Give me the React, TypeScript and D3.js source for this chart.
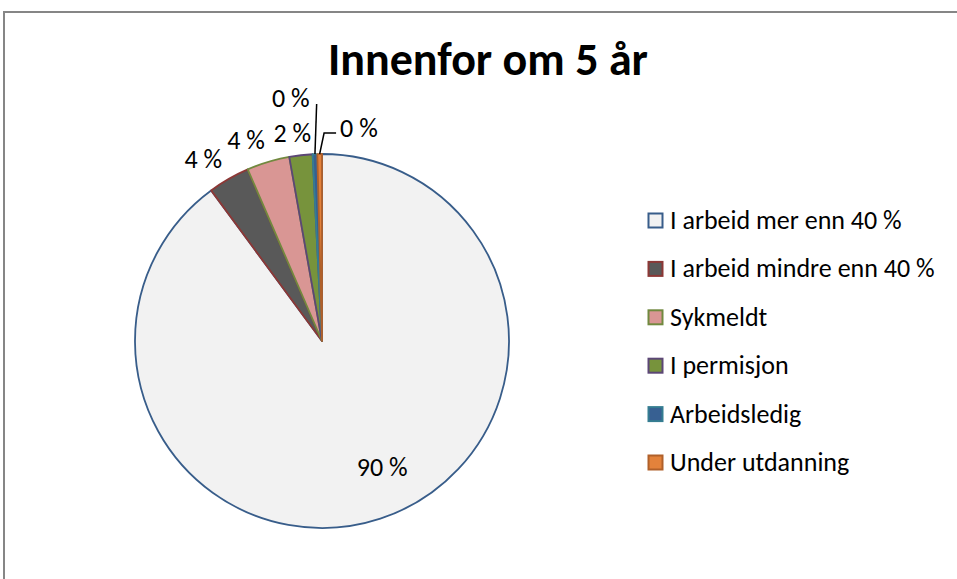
import * as d3 from 'd3'
import React from 'react'

const WIDTH = 957
const HEIGHT = 579
const FONT = 'Carlito, Calibri, Lato, sans-serif'

const TITLE = 'Innenfor om 5 år'
const categories = [
  'I arbeid mer enn 40 %',
  'I arbeid mindre enn 40 %',
  'Sykmeldt',
  'I permisjon',
  'Arbeidsledig',
  'Under utdanning',
]
const values = [89.9, 3.6, 3.7, 2.0, 0.4, 0.4]
const fills = ['#F2F2F2', '#595959', '#D99694', '#77933C', '#376092', '#E3823B']
const strokes = ['#385D8A', '#8C3836', '#71893F', '#5C4776', '#357D91', '#B0602A']

const CX = 322
const CY = 341
const R = 187
const LABEL_HALF_W = 19
const FONT_SIZE = 26

const pct = (v: number) => `${Math.round(v)} %`

const polar = (a: number, r: number): [number, number] => [CX + r * Math.sin(a), CY - r * Math.cos(a)]

export default function App() {
  const pie = d3
    .pie<number>()
    .sort(null)
    .value(d => d)
  const arcs = pie(values)
  const arcGen = d3
    .arc<d3.PieArcDatum<number>>()
    .innerRadius(0)
    .outerRadius(R)

  const total = d3.sum(values)

  // data labels, roughly like Excel's best fit
  let smallCount = 0
  const labels = arcs.map((a, i) => {
    const mid = (a.startAngle + a.endAngle) / 2
    const share = (a.value / total) * 100
    const text = pct(share)
    if (i === 0) {
      const [x, y] = polar(mid - 0.12, R * 0.76)
      return (
        <text key={i} x={x} y={y} textAnchor="middle" dominantBaseline="middle">
          {text}
        </text>
      )
    }
    if (share < 1) {
      const k = smallCount++
      const [sx, sy] = polar(mid, R)
      if (k === 0) {
        // long leader straight up, label on the left
        const [ex, ey] = polar(mid * 0.6 + 2 * Math.PI * 0.4, R + 50)
        return (
          <g key={i}>
            <line x1={sx} y1={sy} x2={ex} y2={ey} stroke="#000" strokeWidth={1.5} />
            <text x={ex - 7} y={ey + 3} textAnchor="end">
              {text}
            </text>
          </g>
        )
      }
      // short elbow leader, label on the right
      const [ex, ey] = polar(2 * Math.PI + 0.01, R + 21)
      return (
        <g key={i}>
          <path
            d={`M${sx},${sy}L${ex},${ey}L${ex + 12},${ey}`}
            fill="none"
            stroke="#000"
            strokeWidth={1.5}
          />
          <text x={ex + 16} y={ey + 4}>
            {text}
          </text>
        </g>
      )
    }
    const [px, py] = polar(mid, R + 13)
    const s = Math.sin(mid)
    const x = px + Math.sign(s) * LABEL_HALF_W * Math.min(1, Math.abs(s) / 0.3)
    return (
      <text key={i} x={x} y={py} textAnchor="middle">
        {text}
      </text>
    )
  })

  const legendY = d3
    .scalePoint<string>()
    .domain(categories)
    .range([213, 455])

  return (
    <svg
      width={WIDTH}
      height={HEIGHT}
      style={{ position: 'absolute', left: 0, top: 0, background: '#fff' }}
      fontFamily={FONT}
    >
      <rect x={4} y={12} width={WIDTH + 10} height={HEIGHT + 10} fill="#fff" stroke="#868686" strokeWidth={2} />

      <text x={488} y={75} textAnchor="middle" fontSize={46} fontWeight="bold" fill="#000">
        {TITLE}
      </text>

      <g>
        {arcs.map((a, i) => (
          <path
            key={i}
            d={arcGen(a) || ''}
            transform={`translate(${CX},${CY})`}
            fill={fills[i]}
            stroke={strokes[i]}
            strokeWidth={1.8}
            strokeLinejoin="round"
          />
        ))}
      </g>

      <g fontSize={FONT_SIZE} fill="#000">
        {labels}
      </g>

      <g fontSize={FONT_SIZE} fill="#000">
        {categories.map((c, i) => {
          const y = legendY(c) || 0
          return (
            <g key={c}>
              <rect x={648.5} y={y + 0.5} width={14} height={14} fill={fills[i]} stroke={strokes[i]} strokeWidth={2} />
              <text x={670} y={y + 16}>
                {c}
              </text>
            </g>
          )
        })}
      </g>
    </svg>
  )
}
